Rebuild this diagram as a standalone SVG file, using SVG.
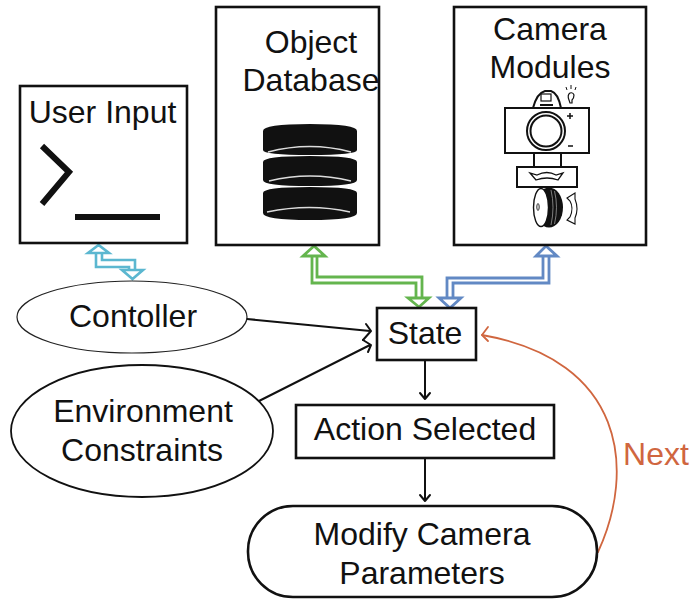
<svg xmlns="http://www.w3.org/2000/svg" width="691" height="604" viewBox="0 0 691 604">
<style>
text{font-family:"Liberation Sans",Arial,sans-serif;font-size:32px;fill:#111;text-anchor:middle}
.box{fill:#fff;stroke:#111;stroke-width:2.6}
.thin{fill:#fff;stroke:#222;stroke-width:1.2}
.ln{fill:none;stroke:#111;stroke-width:2;stroke-linecap:round;stroke-linejoin:round}
.cy{fill:none;stroke:#5bb7d0;stroke-width:2.6}
.gr{fill:none;stroke:#64b54e;stroke-width:2.8}
.bl{fill:none;stroke:#6289c4;stroke-width:2.8}
.or{fill:none;stroke:#d0663f;stroke-width:1.8;stroke-linecap:round;stroke-linejoin:round}
.disk{fill:#111}
.gl{fill:none;stroke:#ddd;stroke-width:1.4}
.cam{fill:#fff;stroke:#111;stroke-width:2}
</style>
<g id="connectors">
<path class="cy" d="M98.500 245L88 253H109ZM96 253V267H129V270M102 253V260H135V270M122 270H143L132.500 279Z"/>
<path class="gr" d="M314 246L303 256H325ZM312 256V283H416V298M317 256V277H422V298M408 298H429L419 307Z"/>
<path class="bl" d="M546 246L536 256H557ZM543 256V278H447V298M549 256V283H453V298M439 298H461L450 308Z"/>
<path class="ln" d="M247 319L370 331M366 324L371 331L363 340"/>
<path class="ln" d="M257 402L370 345M363 340L371 345L368 352"/>
<path class="ln" d="M425 361V399M420 393L425 399L430 393"/>
<path class="ln" d="M425 458V501M420 495L425 501L430 495"/>
<path class="or" d="M598 552C636 470 625 360 482 335"/>
<path class="or" d="M488 327L482 335L488 341"/>
</g>
<g id="user-input">
<rect class="box" x="20" y="86" width="167" height="157"/>
<text x="102.500" y="123">User Input</text>
<path d="M42 146L69 172L42 204" fill="none" stroke="#111" stroke-width="6"/>
<rect x="75" y="214" width="85" height="6" fill="#111"/>
</g>
<g id="object-database">
<rect class="box" x="216" y="7" width="163" height="238"/>
<text x="311" y="53">Object</text>
<text x="311" y="91">Database</text>
<path class="disk" d="M263 131Q263 124 310 124Q357 124 357 131V150Q357 155 310 155Q263 155 263 150Z"/>
<path class="disk" d="M263 162Q263 156 310 156Q357 156 357 162V180Q357 186 310 186Q263 186 263 180Z"/>
<path class="disk" d="M263 193Q263 187 310 187Q357 187 357 193V213Q357 220 310 220Q263 220 263 213Z"/>
<path class="gl" d="M268 152Q310 141 351 152M269 181Q310 171 351 181M267 212Q310 203 350 212"/>
</g>
<g id="camera-modules">
<rect class="box" x="454" y="7" width="192" height="238"/>
<text x="550" y="40">Camera</text>
<text x="550" y="78">Modules</text>
<path class="cam" d="M533 108Q537 93 545 91H551Q558 93 561 108Z"/>
<rect x="541" y="94" width="10" height="7" fill="#fff" stroke="#111" stroke-width="1.200"/>
<path d="M540 105H553" stroke="#111" stroke-width="2"/>
<rect class="cam" x="505" y="108" width="84" height="45"/>
<circle class="cam" cx="546" cy="131" r="19"/>
<circle class="cam" cx="546" cy="131" r="15.500"/>
<path d="M567 116H573M570 113V119M568 146H573" stroke="#111" stroke-width="1.500"/>
<path d="M569 100Q567 95 570 93Q573 92 574 95Q574 98 572 100V103H570Z" fill="#fff" stroke="#111" stroke-width="1.200"/>
<path d="M567 90L566 87M571 89V85M575 90L576 87" stroke="#111" stroke-width="1"/>
<rect class="cam" x="534" y="153" width="27" height="14"/>
<rect class="cam" x="517" y="167" width="60" height="20"/>
<path d="M530 173L536 180Q547 176 558 180L563 173L556 175Q547 170 537 175Z" fill="#fff" stroke="#111" stroke-width="1.300"/>
<ellipse cx="549" cy="207.500" rx="14" ry="20" fill="#111"/>
<ellipse cx="541" cy="207.500" rx="7.500" ry="19" fill="#fff" stroke="#111" stroke-width="1.400"/>
<ellipse cx="538" cy="207" rx="1.200" ry="3.500" fill="#fff" stroke="#111" stroke-width="0.900"/>
<path d="M551 190Q555 207 551 225M554.500 191Q558.500 207 554.500 224" stroke="#999" stroke-width="0.800" fill="none"/>
<path d="M567 198L575 193V199Q579 209 575 218V224L567 220L570 217Q574 208 570 201Z" fill="#fff" stroke="#111" stroke-width="1.100"/>
</g>
<g id="controller">
<ellipse class="thin" cx="132" cy="317" rx="115" ry="36"/>
<text x="133" y="327">Contoller</text>
</g>
<g id="environment-constraints">
<ellipse cx="142" cy="431" rx="131" ry="66" fill="#fff" stroke="#111" stroke-width="1.800"/>
<text x="143" y="422">Environment</text>
<text x="142" y="461">Constraints</text>
</g>
<g id="state">
<rect class="box" x="377" y="308" width="99" height="52"/>
<text x="425" y="344">State</text>
</g>
<g id="action-selected">
<rect class="box" x="296" y="405" width="258" height="53"/>
<text x="425" y="440">Action Selected</text>
</g>
<g id="modify-camera-parameters">
<rect class="box" x="248" y="506" width="349" height="91" rx="45" ry="45"/>
<text x="422" y="545">Modify Camera</text>
<text x="422" y="584">Parameters</text>
</g>
<text x="656" y="465" style="fill:#d0663f">Next</text>
</svg>
